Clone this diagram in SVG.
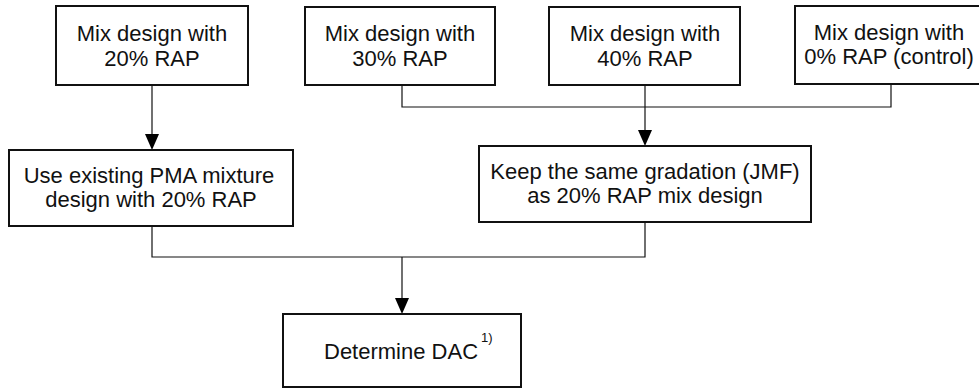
<svg xmlns="http://www.w3.org/2000/svg" width="979" height="388" viewBox="0 0 979 388">
<defs>
<style>
.box{fill:#fff;stroke:#111;stroke-width:2}
.t{font-family:"Liberation Sans",Arial,sans-serif;font-size:22px;fill:#111;text-anchor:middle}
.c{fill:none;stroke:#111;stroke-width:1.2}
.ah{fill:#000}
</style>
</defs>
<rect width="979" height="388" fill="#fff"/>
<g id="connectors">
<path class="c" d="M152,85 V134"/>
<path class="c" d="M402,85 V107 H891 V85"/>
<path class="c" d="M645,85 V130"/>
<path class="c" d="M152,226 V257 H645 V222"/>
<path class="c" d="M402,257 V298"/>
<polygon class="ah" points="145,134 159,134 152,150"/>
<polygon class="ah" points="638,130 652,130 645,146"/>
<polygon class="ah" points="395,298 409,298 402,314"/>
</g>
<g id="n20">
<rect class="box" x="56" y="6" width="192" height="79"/>
<text class="t" x="152" y="41">Mix design with</text>
<text class="t" x="152" y="66">20% RAP</text>
</g>
<g id="n30">
<rect class="box" x="305" y="7" width="190" height="78"/>
<text class="t" x="400" y="41">Mix design with</text>
<text class="t" x="400" y="66">30% RAP</text>
</g>
<g id="n40">
<rect class="box" x="549" y="7" width="191" height="78"/>
<text class="t" x="645" y="41">Mix design with</text>
<text class="t" x="645" y="66">40% RAP</text>
</g>
<g id="n0">
<rect class="box" x="795" y="6" width="190" height="78"/>
<text class="t" x="889" y="40">Mix design with</text>
<text class="t" x="889" y="64">0% RAP (control)</text>
</g>
<g id="existing">
<rect class="box" x="9" y="150" width="284" height="76"/>
<text class="t" x="149" y="183">Use existing PMA mixture</text>
<text class="t" x="151" y="207">design with 20% RAP</text>
</g>
<g id="gradation">
<rect class="box" x="479" y="146" width="332" height="76"/>
<text class="t" x="645" y="179">Keep the same gradation (JMF)</text>
<text class="t" x="645" y="203">as 20% RAP mix design</text>
</g>
<g id="dac">
<rect class="box" x="283" y="314" width="238" height="73"/>
<text class="t" x="324" y="359" style="text-anchor:start">Determine DAC<tspan dx="3" dy="-17" font-size="13">1)</tspan></text>
</g>
</svg>
